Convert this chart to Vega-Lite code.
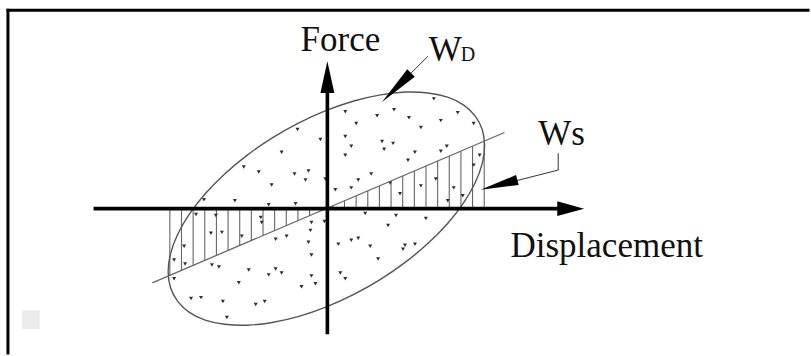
{
  "$schema": "https://vega.github.io/schema/vega-lite/v6.json",
  "width": 811,
  "height": 356,
  "padding": 0,
  "autosize": {"type": "fit", "contains": "padding"},
  "background": "white",
  "config": {"view": {"stroke": null}},
  "datasets": {
    "frame": [
      {"x": -32.0, "x2": 48.4, "y": 20.07, "y2": 20.07},
      {"x": -32.0, "x2": -32.0, "y": 20.07, "y2": -14.6}
    ],
    "smudge": [{"x": -30.6, "x2": -28.8, "y": -10.3, "y2": -12.2}],
    "ellipse": [
      {"i": 0, "x": 15.9, "y": 6.37}, {"i": 1, "x": 15.66, "y": 4.55}, {"i": 2, "x": 14.94, "y": 2.59},
      {"i": 3, "x": 13.77, "y": 0.56}, {"i": 4, "x": 12.18, "y": -1.5}, {"i": 5, "x": 10.22, "y": -3.51},
      {"i": 6, "x": 7.95, "y": -5.41}, {"i": 7, "x": 5.44, "y": -7.15}, {"i": 8, "x": 2.76, "y": -8.67},
      {"i": 9, "x": 0, "y": -9.93}, {"i": 10, "x": -2.76, "y": -10.89}, {"i": 11, "x": -5.44, "y": -11.51},
      {"i": 12, "x": -7.95, "y": -11.79}, {"i": 13, "x": -10.22, "y": -11.7}, {"i": 14, "x": -12.18, "y": -11.27},
      {"i": 15, "x": -13.77, "y": -10.49}, {"i": 16, "x": -14.94, "y": -9.38}, {"i": 17, "x": -15.66, "y": -8.0},
      {"i": 18, "x": -15.9, "y": -6.37}, {"i": 19, "x": -15.66, "y": -4.55}, {"i": 20, "x": -14.94, "y": -2.59},
      {"i": 21, "x": -13.77, "y": -0.56}, {"i": 22, "x": -12.18, "y": 1.5}, {"i": 23, "x": -10.22, "y": 3.51},
      {"i": 24, "x": -7.95, "y": 5.41}, {"i": 25, "x": -5.44, "y": 7.15}, {"i": 26, "x": -2.76, "y": 8.67},
      {"i": 27, "x": 0, "y": 9.93}, {"i": 28, "x": 2.76, "y": 10.89}, {"i": 29, "x": 5.44, "y": 11.51},
      {"i": 30, "x": 7.95, "y": 11.79}, {"i": 31, "x": 10.22, "y": 11.7}, {"i": 32, "x": 12.18, "y": 11.27},
      {"i": 33, "x": 13.77, "y": 10.49}, {"i": 34, "x": 14.94, "y": 9.38}, {"i": 35, "x": 15.66, "y": 8.0}
    ],
    "hatch": [
      {"x": -15.73, "y": 0, "y2": -6.76}, {"x": -14.56, "y": 0, "y2": -6.26}, {"x": -13.39, "y": 0, "y2": -5.76},
      {"x": -12.22, "y": 0, "y2": -5.25}, {"x": -11.05, "y": 0, "y2": -4.75}, {"x": -9.88, "y": 0, "y2": -4.25},
      {"x": -8.71, "y": 0, "y2": -3.75}, {"x": -7.54, "y": 0, "y2": -3.24}, {"x": -6.37, "y": 0, "y2": -2.74},
      {"x": -5.2, "y": 0, "y2": -2.24}, {"x": -4.03, "y": 0, "y2": -1.73}, {"x": -2.86, "y": 0, "y2": -1.23},
      {"x": -1.69, "y": 0, "y2": -0.73}, {"x": -0.52, "y": 0, "y2": -0.22}, {"x": 0.65, "y": 0, "y2": 0.28},
      {"x": 1.82, "y": 0, "y2": 0.78}, {"x": 2.99, "y": 0, "y2": 1.29}, {"x": 4.16, "y": 0, "y2": 1.79},
      {"x": 5.33, "y": 0, "y2": 2.29}, {"x": 6.5, "y": 0, "y2": 2.8}, {"x": 7.67, "y": 0, "y2": 3.3},
      {"x": 8.84, "y": 0, "y2": 3.8}, {"x": 10.01, "y": 0, "y2": 4.3}, {"x": 11.18, "y": 0, "y2": 4.81},
      {"x": 12.35, "y": 0, "y2": 5.31}, {"x": 13.52, "y": 0, "y2": 5.81}, {"x": 14.69, "y": 0, "y2": 6.32},
      {"x": 15.86, "y": 0, "y2": 6.82}
    ],
    "stiffness": [{"x": -17.5, "y": -7.5}, {"x": 17.9, "y": 7.7}],
    "axes": [
      {"x": -23.4, "x2": 23.4, "y": 0, "y2": 0},
      {"x": 0.1, "x2": 0.1, "y": -12.7, "y2": 11.9}
    ],
    "xarrow": [{"x": 23.2, "y": -0.75, "y2": 0.75}, {"x": 25.9, "y": 0, "y2": 0}],
    "yarrow": [{"y": 11.7, "x": -0.6, "x2": 0.8}, {"y": 14.9, "x": 0.1, "x2": 0.1}],
    "dots": [
      {"x": -4.5, "y": 5.7}, {"x": -8.3, "y": 4.2}, {"x": -6.8, "y": 3.7}, {"x": -3.2, "y": 3.5},
      {"x": -1.8, "y": 3.8}, {"x": -2.1, "y": 2.9}, {"x": -5.5, "y": 2.4}, {"x": -0.1, "y": 3.0},
      {"x": 1.9, "y": 5.4}, {"x": 5.8, "y": 6.0}, {"x": 8.9, "y": 5.7}, {"x": 11.5, "y": 5.8},
      {"x": 8.2, "y": 4.9}, {"x": 4.5, "y": 3.5}, {"x": 3.2, "y": 2.9}, {"x": 2.5, "y": 2.1},
      {"x": 0.9, "y": 1.9}, {"x": 6.4, "y": 2.6}, {"x": 9.5, "y": 2.3}, {"x": 7.4, "y": 1.5},
      {"x": 11.0, "y": 3.0}, {"x": 12.8, "y": 2.1}, {"x": 12.2, "y": 0.8}, {"x": 13.7, "y": 1.3},
      {"x": 14.8, "y": 4.4}, {"x": 15.4, "y": 5.4}, {"x": -12.3, "y": 0.9}, {"x": -9.2, "y": 0.8},
      {"x": -3.1, "y": 0.5}, {"x": -5.8, "y": 0.4}, {"x": -11.1, "y": -0.7}, {"x": -13.1, "y": -0.6},
      {"x": -6.5, "y": -1.4}, {"x": -6.6, "y": -0.9}, {"x": -1.5, "y": -1.4}, {"x": -1.6, "y": -2.2},
      {"x": -0.2, "y": -1.3}, {"x": 3.9, "y": -0.5}, {"x": 7.0, "y": -0.7}, {"x": 10.0, "y": -1.0},
      {"x": 6.2, "y": -1.7}, {"x": -11.6, "y": -2.5}, {"x": -10.5, "y": -2.4}, {"x": -8.5, "y": -2.8},
      {"x": -5.1, "y": -3.1}, {"x": -4.0, "y": -2.8}, {"x": -1.8, "y": -3.4}, {"x": 2.5, "y": -3.2},
      {"x": 3.2, "y": -3.0}, {"x": 1.2, "y": -3.6}, {"x": 4.4, "y": -3.8}, {"x": 7.9, "y": -3.7},
      {"x": 7.7, "y": -4.1}, {"x": 8.9, "y": -3.6}, {"x": 5.2, "y": -5.1}, {"x": -14.3, "y": -3.8},
      {"x": -14.2, "y": -5.6}, {"x": -15.3, "y": -5.2}, {"x": -11.5, "y": -5.7}, {"x": -10.8, "y": -5.9},
      {"x": -7.8, "y": -6.2}, {"x": -5.8, "y": -6.7}, {"x": -5.1, "y": -6.1}, {"x": -4.5, "y": -6.5},
      {"x": -1.5, "y": -4.7}, {"x": -1.5, "y": -6.8}, {"x": -1.1, "y": -7.6}, {"x": 1.4, "y": -6.5},
      {"x": 1.9, "y": -7.1}, {"x": -8.8, "y": -7.5}, {"x": -2.5, "y": -7.9}, {"x": -15.3, "y": -7.1},
      {"x": -13.6, "y": -9.1}, {"x": -12.6, "y": -9.0}, {"x": -10.4, "y": -9.4}, {"x": -7.1, "y": -9.7},
      {"x": -6.2, "y": -9.4}, {"x": -10.0, "y": -11.0}, {"x": 1.9, "y": 9.8}, {"x": 3.0, "y": 8.6},
      {"x": 5.1, "y": 9.4}, {"x": 6.8, "y": 10.0}, {"x": 8.3, "y": 9.2}, {"x": 10.8, "y": 11.1},
      {"x": 9.5, "y": 8.2}, {"x": 11.5, "y": 8.9}, {"x": 13.2, "y": 9.7}, {"x": 14.8, "y": 8.6},
      {"x": 1.9, "y": 7.3}, {"x": 2.5, "y": 6.3}, {"x": 5.6, "y": 6.8}, {"x": 6.7, "y": 6.6},
      {"x": 12.1, "y": 6.3}, {"x": -0.6, "y": 7.0}, {"x": -2.9, "y": 8.0}
    ],
    "wdLeader": [{"i": 0, "x": 10.2, "y": 15.4}, {"i": 1, "x": 7.6, "y": 12.8}],
    "wdWedge": [{"x": 7.05, "y": 12.25}],
    "wsLeader": [{"i": 0, "x": 23.3, "y": 5.6}, {"i": 1, "x": 23.3, "y": 3.9}, {"i": 2, "x": 18.6, "y": 2.7}],
    "wsWedge": [{"x": 17.35, "y": 2.4}],
    "bigText": [
      {"x": -2.6, "y": 15.9, "label": "Force"},
      {"x": 10.3, "y": 14.9, "label": "W"},
      {"x": 21.3, "y": 6.4, "label": "Ws"},
      {"x": 18.5, "y": -4.9, "label": "Displacement"}
    ],
    "subText": [{"x": 13.5, "y": 14.9, "label": "D"}]
  },
  "encoding": {
    "x": {"field": "x", "type": "quantitative", "scale": {"domain": [-32.8, 48.3], "nice": false, "zero": false}, "axis": null},
    "y": {"field": "y", "type": "quantitative", "scale": {"domain": [-14.5, 21.1], "nice": false, "zero": false}, "axis": null}
  },
  "layer": [
    {
      "data": {"name": "smudge"},
      "mark": {"type": "rect", "fill": "#ebebeb"},
      "encoding": {"x2": {"field": "x2"}, "y2": {"field": "y2"}}
    },
    {
      "data": {"name": "frame"},
      "mark": {"type": "rule", "stroke": "#000000", "strokeWidth": 3, "strokeCap": "square"},
      "encoding": {"x2": {"field": "x2"}, "y2": {"field": "y2"}}
    },
    {
      "data": {"name": "hatch"},
      "mark": {"type": "rule", "stroke": "#666666", "strokeWidth": 1.1},
      "encoding": {"y2": {"field": "y2"}}
    },
    {
      "data": {"name": "dots"},
      "mark": {"type": "point", "shape": "triangle-down", "filled": true, "size": 16, "color": "#2e2e2e", "opacity": 1}
    },
    {
      "data": {"name": "ellipse"},
      "mark": {"type": "line", "interpolate": "cardinal-closed", "stroke": "#555555", "strokeWidth": 1.4},
      "encoding": {"order": {"field": "i", "type": "quantitative"}}
    },
    {
      "data": {"name": "stiffness"},
      "mark": {"type": "line", "stroke": "#666666", "strokeWidth": 1.3},
      "encoding": {}
    },
    {
      "data": {"name": "axes"},
      "mark": {"type": "rule", "stroke": "#000000", "strokeWidth": 3.6},
      "encoding": {"x2": {"field": "x2"}, "y2": {"field": "y2"}}
    },
    {
      "data": {"name": "xarrow"},
      "mark": {"type": "area", "color": "#000000", "orient": "vertical"},
      "encoding": {"y2": {"field": "y2"}}
    },
    {
      "data": {"name": "yarrow"},
      "mark": {"type": "area", "color": "#000000", "orient": "horizontal"},
      "encoding": {"x2": {"field": "x2"}}
    },
    {
      "data": {"name": "wdLeader"},
      "mark": {"type": "line", "stroke": "#333333", "strokeWidth": 1},
      "encoding": {"order": {"field": "i", "type": "quantitative"}}
    },
    {
      "data": {"name": "wdWedge"},
      "mark": {"type": "point", "shape": "M1,0L-1,-0.26L-1,0.26Z", "filled": true, "color": "#000000", "opacity": 1, "size": 1681, "angle": 135}
    },
    {
      "data": {"name": "wsLeader"},
      "mark": {"type": "line", "stroke": "#333333", "strokeWidth": 1},
      "encoding": {"order": {"field": "i", "type": "quantitative"}}
    },
    {
      "data": {"name": "wsWedge"},
      "mark": {"type": "point", "shape": "M1,0L-1,-0.27L-1,0.27Z", "filled": true, "color": "#000000", "opacity": 1, "size": 1444, "angle": 165}
    },
    {
      "data": {"name": "bigText"},
      "mark": {"type": "text", "font": "Liberation Serif", "fontSize": 35, "align": "left", "baseline": "alphabetic", "color": "#111111"},
      "encoding": {"text": {"field": "label"}}
    },
    {
      "data": {"name": "subText"},
      "mark": {"type": "text", "font": "Liberation Serif", "fontSize": 20, "align": "left", "baseline": "alphabetic", "color": "#111111"},
      "encoding": {"text": {"field": "label"}}
    }
  ]
}
